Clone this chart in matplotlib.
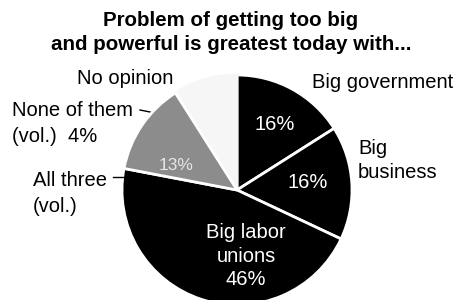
import matplotlib.pyplot as plt

# pie data, clockwise from 12 o'clock
categories = ["Big government", "Big business", "Big labor unions",
              "All three (vol.)", "None of them (vol.)", "No opinion"]
shares = [16, 16, 46, 13, 4, 5]
colors = ["#000000", "#000000", "#000000", "#8c8c8c", "#f6f6f6", "#f6f6f6"]
edges = ["white", "white", "white", "white", "#f6f6f6", "#f6f6f6"]

plt.rcParams['font.family'] = ['Liberation Sans', 'DejaVu Sans']

fig = plt.figure(figsize=(4.62, 3.0), dpi=100)
ax = fig.add_axes([0, 0, 1, 1])

wedges, _ = ax.pie(shares, colors=colors, startangle=90, counterclock=False,
                   center=(237, 110), radius=115, frame=True,
                   wedgeprops=dict(linewidth=2))
for w, ec in zip(wedges, edges):
    w.set_edgecolor(ec)
# white divider between the shaded slice and the light ones
wedges[3].set_zorder(3)
ax.set_xlim(0, 462)
ax.set_ylim(0, 300)
ax.axis("off")

# title
ax.text(231, 280, "Problem of getting too big", ha="center", va="center",
        fontsize=14.8, fontweight="bold")
ax.text(231, 255, "and powerful is greatest today with...", ha="center",
        va="center", fontsize=14.8, fontweight="bold")

# slice labels
lab = dict(fontsize=14.5, va="center")
ax.text(383, 218, "Big government", ha="center", **lab)
ax.text(358, 152, "Big", ha="left", **lab)
ax.text(358, 127, "business", ha="left", **lab)
ax.text(125, 222, "No opinion", ha="center", **lab)
ax.text(12, 190, "None of them", ha="left", **lab)
ax.text(12, 163, "(vol.)  4%", ha="left", **lab)
ax.text(33, 120, "All three", ha="left", **lab)
ax.text(33, 93, "(vol.)", ha="left", **lab)
ax.plot([140, 155], [190, 187], color="black", lw=1)
ax.plot([113, 128], [123, 123], color="black", lw=1)

ax.text(275, 175, "16%", ha="center", va="center", color="white", fontsize=14.5)
ax.text(308, 118, "16%", ha="center", va="center", color="white", fontsize=14.5)
ax.text(176, 134, "13%", ha="center", va="center", color="#e6e6e6", fontsize=12.5,
        zorder=4)
ax.text(246, 44, "Big labor\nunions\n46%", ha="center", va="center",
        color="white", fontsize=14.5, linespacing=1.3)

fig.savefig("out.png", dpi=100)
